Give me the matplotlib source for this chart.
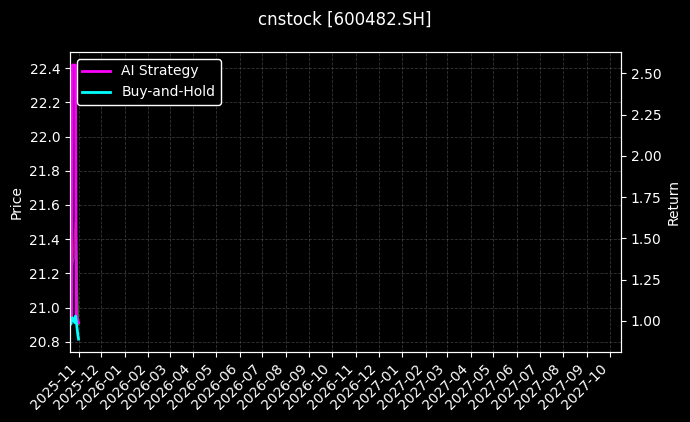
import numpy as np
import pandas as pd
import matplotlib
matplotlib.use("Agg")
from matplotlib import pyplot as plt
import matplotlib.dates as mdates

plt.style.use("dark_background")

# data (last days of Oct 2025)
dates = pd.to_datetime(["2025-10-21", "2025-10-22", "2025-10-23", "2025-10-24",
                        "2025-10-27", "2025-10-28", "2025-10-29", "2025-10-30",
                        "2025-10-31", "2025-11-01"])
price = [22.35, 21.85, 21.60, 21.25, 21.45, 21.50, 21.40, 21.20, 20.95, 20.90]
price_ma = [21.95, 21.70, 21.55, 21.25, 21.30, 21.50, 21.50, 21.30, 21.05, 20.90]
strategy = [0.99, 1.00, 1.03, 2.55, 2.55, 2.55, 1.04, 1.02, 1.00, 0.99]
benchmark = [1.00, 0.98, 1.01, 1.02, 0.99, 1.03, 1.00, 0.96, 0.92, 0.89]

x_start = pd.Timestamp("2025-10-20 18:00")
x_end = pd.Timestamp("2027-10-16")

fig = plt.figure(figsize=(6.9, 4.22), dpi=100)
ax1 = fig.add_axes([0.1014, 0.1659, 0.7986, 0.7109])
ax2 = ax1.twinx()

# price on the left axis (faint)
ax1.plot(dates, price, color="#d2691e", alpha=0.55, linewidth=1)
ax1.plot(dates, price_ma, color="#2ca02c", alpha=0.7, linewidth=1)
ax1.set_ylabel("Price")
ax1.set_ylim(20.74, 22.495)
ax1.set_yticks(np.arange(20.8, 22.41, 0.2))
ax1.grid(True, linestyle="--", color="gray", alpha=0.4, linewidth=0.6)

# returns on the right axis
ax2.plot(dates, strategy, color="magenta", linewidth=2, label="AI Strategy")
ax2.plot(dates, benchmark, color="cyan", linewidth=2, label="Buy-and-Hold")
ax2.set_ylabel("Return")
ax2.set_ylim(0.812, 2.629)
ax2.set_yticks([1.0, 1.25, 1.5, 1.75, 2.0, 2.25, 2.5])

ax1.set_xlim(x_start, x_end)
ax1.xaxis.set_major_locator(mdates.MonthLocator())
ax1.xaxis.set_major_formatter(mdates.DateFormatter("%Y-%m"))
plt.setp(ax1.get_xticklabels(), rotation=45, ha="right")

ax2.legend(loc="upper left", facecolor="black", edgecolor="white", framealpha=1)

fig.suptitle("cnstock [600482.SH]", fontsize=12, y=0.975)

fig.savefig("out.png", dpi=100)
